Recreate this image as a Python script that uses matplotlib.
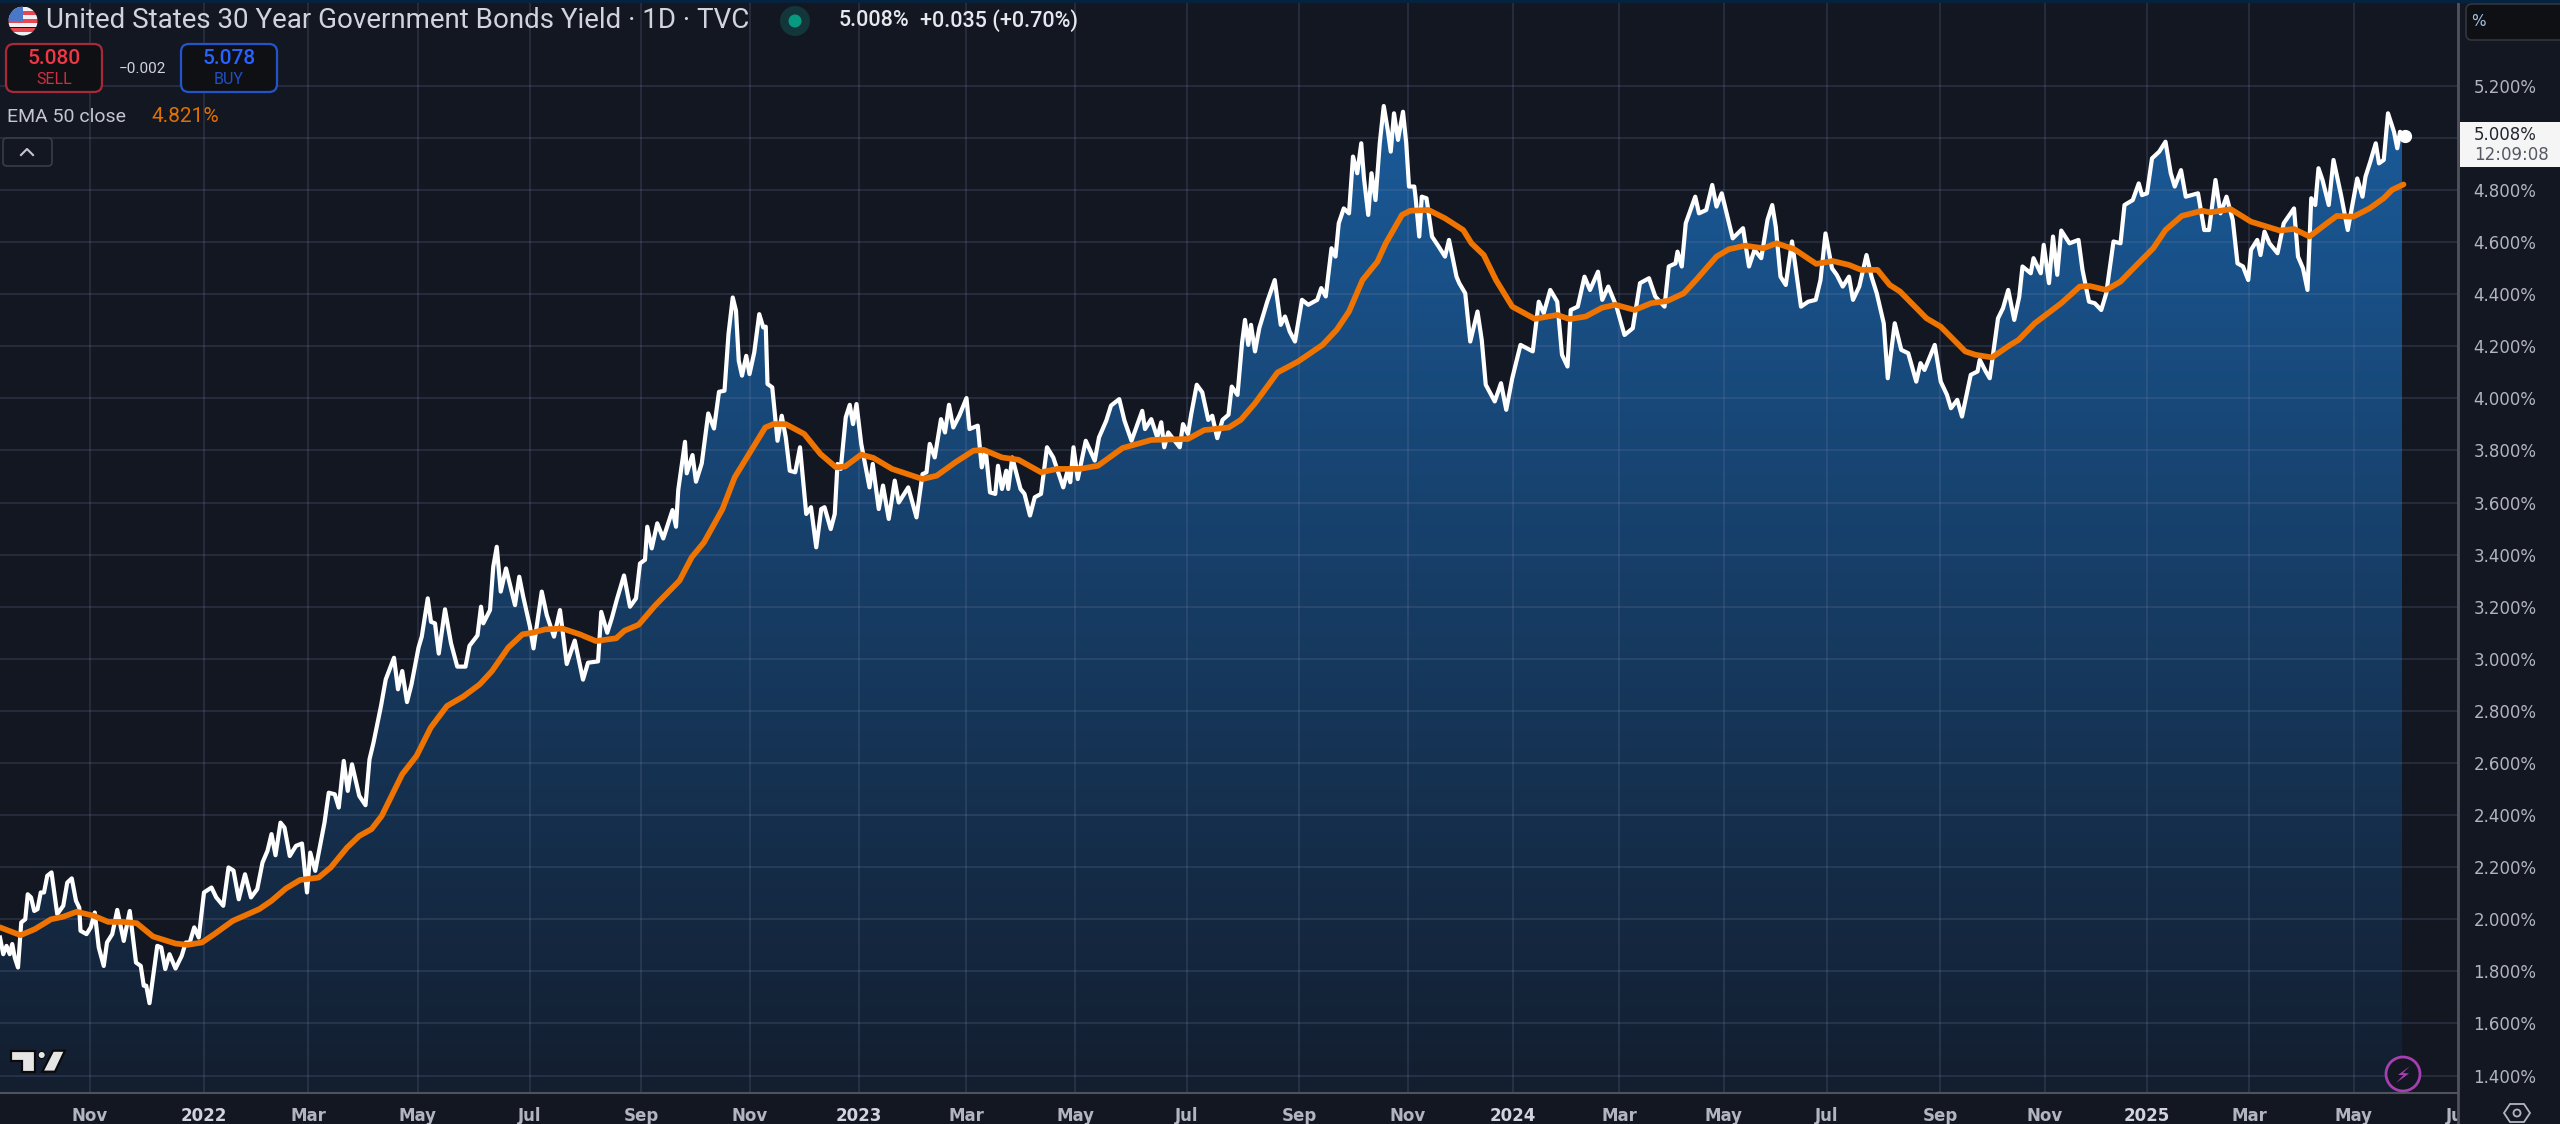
import numpy as np
import matplotlib
matplotlib.use('Agg')
import matplotlib.pyplot as plt
from matplotlib.colors import LinearSegmentedColormap
from matplotlib.patches import Circle, FancyBboxPatch, Polygon, Rectangle

# x is in bars counted from the left edge of the chart
tick_bars = [36, 81.6, 123.2, 167.2, 212, 256.4, 300, 343.6, 386.4, 430, 474.8, 519.6,
             563.2, 605.2, 647.6, 689.6, 730.8, 776, 818, 858.8, 899.6, 941.6, 983]
tick_labels = ['Nov', '2022', 'Mar', 'May', 'Jul', 'Sep', 'Nov', '2023', 'Mar', 'May', 'Jul', 'Sep',
               'Nov', '2024', 'Mar', 'May', 'Jul', 'Sep', 'Nov', '2025', 'Mar', 'May', 'Jul']
price_ticks = [1.4, 1.6, 1.8, 2.0, 2.2, 2.4, 2.6, 2.8, 3.0, 3.2, 3.4, 3.6, 3.8, 4.0, 4.2, 4.4, 4.6, 4.8, 5.0, 5.2]

yield_x = [0, 1.3, 2.6, 3.9, 4.9, 5.9, 7.2, 8.5, 10.1, 11.1, 12.4, 13.7, 15, 16.3, 17.6, 18.9, 20.6, 22.9, 25.3, 26.9,
           28.7, 30.4, 31.7, 32.2, 34.6, 36.3, 37.9, 39.5, 41.5, 42.8, 44.9, 46.9, 49.5, 51.9, 54.4, 56.3, 57.5, 58.5,
           59.8, 62.9, 64.5, 66.1, 67.8, 70.2, 72.7, 74.3, 75.9, 77.7, 79.5, 81.6, 84.6, 86.5, 89.3, 91.4, 93.4, 95.5,
           98, 100.4, 102.9, 105, 107, 108.6, 110.2, 112.2, 113.8, 115.9, 118.4, 120.8, 122.8, 124.1, 126.1, 129.8,
           131.5, 133.9, 135.5, 137.5, 139.1, 140.8, 143.7, 146.2, 147.8, 149.4, 152.4, 154.3, 157.6, 159.2, 160.9,
           162.8, 164.6, 167.4, 168.7, 171.1, 172.4, 174, 175.5, 178, 180.4, 182.9, 186.2, 187.8, 191, 192.4, 193.3,
           196, 197.3, 198.7, 200.3, 202.4, 206, 207.7, 209.3, 212, 213.4, 216.7, 218.7, 221.6, 224, 226.7, 229.9,
           233.2, 235.2, 239.2, 240.5, 242.9, 244.7, 246.7, 249.6, 252, 254.4, 256, 258, 258.9, 260.7, 262.9, 265.3,
           269, 270.4, 271.3, 274, 274.7, 277, 278.4, 280.7, 283.3, 285.6, 287.6, 289.8, 291.4, 293.1, 294.4, 295.5,
           296.8, 298.5, 299.8, 301.7, 303.7, 305.3, 306.3, 307, 308.9, 311, 312.7, 314.3, 315.9, 318.1, 320, 322.5,
           324.4, 326.5, 328.5, 329.8, 332.3, 333.9, 335, 336.3, 338.3, 339.9, 341.2, 342.6, 344.5, 347.8, 349.1,
           351.5, 353.2, 355.5, 357.9, 359.5, 363.3, 366.6, 369, 370.6, 371.9, 373.9, 376.4, 378, 379.6, 381.3, 383.7,
           386.6, 387.8, 391.1, 392.7, 394.3, 396, 398.1, 399.2, 400.8, 402.5, 403.3, 404.9, 408.2, 409.8, 412, 413.9,
           416.4, 418.8, 421.3, 425.3, 427, 428.1, 429.4, 431.1, 434.3, 437.9, 439.6, 442.5, 444.4, 447.7, 449.8,
           452.6, 456.9, 458, 460.5, 462.9, 464.5, 465.7, 467.3, 471.9, 473.2, 475.2, 476.5, 478.7, 480.9, 483.3,
           484.9, 486.9, 489, 491.4, 492.7, 495, 496.8, 498, 499.3, 500.4, 502, 503.7, 506.9, 509.9, 512.3, 514, 515.9,
           518, 520.8, 523.3, 526.9, 528.5, 530.3, 532.6, 534.2, 535.5, 537.5, 539.6, 541.2, 542.9, 544.5, 545.6,
           547.3, 548.6, 550.2, 551.9, 553.5, 555.1, 556.3, 557.6, 559.2, 561.2, 562.5, 563.6, 565.7, 566.2, 567.7,
           568.7, 570.6, 572.8, 575.5, 578, 579.6, 582.6, 583.7, 586.1, 588.1, 591, 592.7, 594.3, 597.9, 600.4, 602.5,
           604.9, 608.2, 613.1, 615.5, 617.5, 620.1, 622.9, 624.8, 627, 628.3, 631.1, 633.8, 636, 639.2, 640.9, 643.3,
           646.6, 649.8, 653.1, 656, 659.6, 662.1, 665.8, 667.5, 670.2, 671, 672.7, 674.3, 678.1, 679.6, 682.5, 684.9,
           686.6, 688.7, 693.1, 697.2, 699.6, 701.8, 704.5, 707, 708.9, 710.3, 712.2, 714.3, 716.8, 720.4, 723.3,
           726.3, 728.2, 730.2, 732.8, 734.7, 737.1, 739.6, 741.2, 743.7, 746.6, 748.6, 750.7, 753.5, 755.1, 757.9,
           760.5, 763.3, 766.5, 768.2, 769.8, 773.9, 776.3, 778.8, 780.4, 782.9, 784.8, 788.3, 791, 791.9, 794.3,
           795.9, 799.2, 801.2, 803.3, 805.7, 807.7, 809, 812.3, 813.4, 816.3, 817.5, 819.6, 821.2, 822.9, 824.5,
           827.8, 831.4, 833, 835.6, 837.9, 840.5, 842.5, 845.4, 848.2, 849.8, 853.1, 855.5, 856.8, 858.8, 860.8,
           863.7, 866.2, 868.3, 869.9, 872.4, 874.3, 879.2, 881.7, 883.6, 886.2, 888.2, 890.6, 893.1, 895, 897.2,
           899.3, 900.4, 902.9, 904.2, 905.8, 907.8, 911, 913.5, 917.6, 919.2, 921.2, 923, 924.5, 926.1, 927.4, 929,
           931.5, 933.4, 936.4, 939.1, 942.9, 945, 946.2, 948.1, 950.3, 951.6, 953.5, 955.2, 957.6, 958.9, 960, 962]
yield_y = [1.93, 1.866, 1.898, 1.866, 1.905, 1.853, 1.815, 1.988, 2.0, 2.096, 2.084, 2.032, 2.039, 2.103, 2.103, 2.167,
           2.18, 2.02, 2.052, 2.141, 2.157, 2.071, 2.045, 1.956, 1.943, 1.969, 2.026, 1.892, 1.821, 1.911, 1.943, 2.036,
           1.917, 2.032, 1.834, 1.821, 1.745, 1.745, 1.678, 1.898, 1.892, 1.809, 1.866, 1.811, 1.86, 1.911, 1.911,
           1.969, 1.93, 2.103, 2.122, 2.084, 2.052, 2.199, 2.187, 2.077, 2.173, 2.084, 2.116, 2.218, 2.263, 2.327,
           2.246, 2.371, 2.352, 2.243, 2.282, 2.291, 2.103, 2.256, 2.186, 2.371, 2.486, 2.48, 2.429, 2.608, 2.493,
           2.595, 2.474, 2.438, 2.614, 2.678, 2.819, 2.921, 3.004, 2.883, 2.953, 2.834, 2.902, 3.043, 3.085, 3.232,
           3.142, 3.136, 3.02, 3.19, 3.06, 2.97, 2.97, 3.05, 3.09, 3.2, 3.136, 3.187, 3.353, 3.43, 3.258, 3.347, 3.206,
           3.315, 3.238, 3.123, 3.04, 3.258, 3.168, 3.085, 3.187, 2.98, 3.07, 2.92, 2.985, 2.99, 3.18, 3.1, 3.155,
           3.226, 3.32, 3.2, 3.232, 3.366, 3.38, 3.507, 3.424, 3.52, 3.462, 3.571, 3.507, 3.648, 3.833, 3.712, 3.782,
           3.68, 3.75, 3.942, 3.884, 4.025, 4.029, 4.247, 4.387, 4.336, 4.144, 4.087, 4.163, 4.093, 4.176, 4.323,
           4.272, 4.275, 4.055, 4.042, 3.837, 3.933, 3.85, 3.722, 3.716, 3.812, 3.556, 3.582, 3.428, 3.575, 3.582,
           3.498, 3.556, 3.748, 3.729, 3.927, 3.975, 3.901, 3.978, 3.825, 3.658, 3.748, 3.575, 3.665, 3.537, 3.684,
           3.6, 3.658, 3.543, 3.709, 3.716, 3.825, 3.773, 3.92, 3.869, 3.975, 3.888, 3.933, 4.001, 3.882, 3.895, 3.735,
           3.799, 3.639, 3.633, 3.741, 3.652, 3.722, 3.652, 3.773, 3.652, 3.633, 3.55, 3.62, 3.633, 3.812, 3.773,
           3.658, 3.722, 3.678, 3.812, 3.69, 3.837, 3.761, 3.85, 3.914, 3.972, 3.997, 3.914, 3.837, 3.952, 3.882, 3.92,
           3.85, 3.908, 3.812, 3.869, 3.812, 3.901, 3.863, 3.94, 4.052, 4.023, 3.917, 3.933, 3.847, 3.917, 3.937, 4.045,
           4.013, 4.211, 4.301, 4.205, 4.282, 4.18, 4.269, 4.371, 4.454, 4.282, 4.314, 4.256, 4.218, 4.378, 4.359,
           4.378, 4.423, 4.391, 4.576, 4.544, 4.672, 4.729, 4.71, 4.928, 4.864, 4.979, 4.844, 4.704, 4.864, 4.761,
           4.979, 5.122, 5.03, 4.947, 5.094, 4.992, 5.1, 4.979, 4.813, 4.813, 4.774, 4.621, 4.774, 4.768, 4.621, 4.582,
           4.544, 4.608, 4.467, 4.442, 4.403, 4.218, 4.333, 4.224, 4.052, 3.988, 4.058, 3.956, 4.077, 4.205, 4.18,
           4.371, 4.327, 4.416, 4.371, 4.167, 4.122, 4.339, 4.352, 4.467, 4.416, 4.486, 4.378, 4.429, 4.352, 4.243,
           4.269, 4.442, 4.461, 4.391, 4.352, 4.506, 4.518, 4.563, 4.506, 4.672, 4.774, 4.71, 4.723, 4.819, 4.736,
           4.787, 4.614, 4.653, 4.506, 4.57, 4.538, 4.685, 4.742, 4.659, 4.467, 4.435, 4.602, 4.352, 4.371, 4.378,
           4.454, 4.633, 4.499, 4.474, 4.429, 4.467, 4.378, 4.429, 4.55, 4.467, 4.403, 4.288, 4.077, 4.288, 4.186,
           4.173, 4.064, 4.135, 4.109, 4.205, 4.064, 4.013, 3.962, 3.994, 3.93, 4.09, 4.103, 4.148, 4.103, 4.077, 4.307,
           4.346, 4.416, 4.301, 4.39, 4.506, 4.48, 4.538, 4.48, 4.589, 4.442, 4.621, 4.474, 4.644, 4.595, 4.608, 4.493,
           4.371, 4.365, 4.339, 4.403, 4.602, 4.595, 4.742, 4.761, 4.825, 4.78, 4.787, 4.921, 4.947, 4.985, 4.864,
           4.813, 4.876, 4.774, 4.787, 4.646, 4.646, 4.838, 4.71, 4.774, 4.685, 4.518, 4.506, 4.454, 4.57, 4.608, 4.55,
           4.64, 4.595, 4.557, 4.672, 4.729, 4.544, 4.499, 4.416, 4.768, 4.742, 4.883, 4.838, 4.742, 4.915, 4.781,
           4.646, 4.844, 4.774, 4.851, 4.908, 4.979, 4.902, 4.915, 5.094, 5.023, 4.96, 5.023, 5.008]

ema_x = [0, 8.2, 13.9, 20.4, 25.3, 30.7, 37.6, 43.3, 49, 54.7, 61.2, 70.2, 75.1, 80.8, 85.7, 93.1, 103.7, 108.6, 114.3,
         120, 127.4, 132.3, 138.8, 143.7, 148.6, 152.7, 157.6, 160.9, 166.6, 172.3, 178.8, 185.3, 191.9, 196.8, 203.3,
         209, 213.1, 218, 225, 231.9, 238.4, 246.5, 249.8, 255.5, 262, 271.8, 276.7, 281.6, 289, 293.9, 300.4, 306.1,
         309.4, 314.3, 321.7, 328.2, 334.4, 338, 344.5, 349.4, 356.8, 369, 374.7, 382.1, 389.4, 393.5, 400.8, 407.4,
         416.4, 422.9, 431.9, 439.2, 449, 460.5, 475.2, 481.7, 491.5, 496.3, 502, 506.9, 511, 519.2, 529, 534.7, 539.6,
         545, 551, 554.3, 560.8, 564.1, 571.4, 578, 585.3, 588.6, 593.5, 598.4, 604.9, 613.9, 622.9, 627.8, 634.3,
         640.9, 646.2, 653.9, 660.4, 667, 673.5, 678.4, 686.6, 691.5, 698, 705.4, 710.6, 717.6, 726.5, 733.1, 739.6,
         744.5, 751, 755.9, 760, 770.6, 776.3, 786.1, 790.2, 796.8, 804.1, 807.4, 813.9, 824.5, 831.9, 835.9, 842.5,
         848.2, 854.7, 861.3, 866.2, 872.7, 880.8, 884.1, 892.3, 900.4, 911.9, 917.6, 923.8, 929.8, 934.7, 941.3,
         947.8, 953.5, 956.8, 961.4]
ema_y = [1.969, 1.939, 1.962, 2.0, 2.01, 2.029, 2.013, 1.99, 1.99, 1.985, 1.934, 1.907, 1.902, 1.911, 1.943, 1.994, 2.039,
         2.071, 2.118, 2.151, 2.16, 2.199, 2.275, 2.32, 2.346, 2.397, 2.493, 2.557, 2.627, 2.736, 2.819, 2.855, 2.902,
         2.953, 3.043, 3.094, 3.1, 3.113, 3.116, 3.094, 3.068, 3.079, 3.108, 3.131, 3.204, 3.3, 3.39, 3.447, 3.575,
         3.697, 3.799, 3.888, 3.901, 3.901, 3.863, 3.786, 3.735, 3.738, 3.784, 3.771, 3.729, 3.69, 3.703, 3.754, 3.799,
         3.802, 3.773, 3.764, 3.716, 3.729, 3.729, 3.741, 3.809, 3.84, 3.844, 3.878, 3.888, 3.917, 3.981, 4.045, 4.099,
         4.141, 4.205, 4.263, 4.333, 4.454, 4.525, 4.595, 4.704, 4.72, 4.723, 4.691, 4.646, 4.595, 4.55, 4.454, 4.352,
         4.305, 4.32, 4.304, 4.314, 4.348, 4.359, 4.339, 4.365, 4.374, 4.403, 4.454, 4.544, 4.572, 4.586, 4.576, 4.595,
         4.573, 4.516, 4.527, 4.512, 4.493, 4.493, 4.435, 4.41, 4.307, 4.275, 4.18, 4.167, 4.157, 4.205, 4.224, 4.288,
         4.365, 4.429, 4.431, 4.416, 4.448, 4.512, 4.576, 4.646, 4.7, 4.72, 4.714, 4.726, 4.678, 4.644, 4.65, 4.621,
         4.665, 4.7, 4.697, 4.729, 4.768, 4.8, 4.821]

BG = '#131722'
W, H = 2560, 1124
PANEL_X, PANEL_Y = 2458, 1093
LABEL = '#b2b5be'

fig = plt.figure(figsize=(W / 100, H / 100), dpi=100, facecolor=BG)
ax = fig.add_axes([0, 1 - PANEL_Y / H, PANEL_X / W, (PANEL_Y - 3) / H])
ax.set_facecolor(BG)

# area under the yield line, gradient clipped to the line
grad = LinearSegmentedColormap.from_list('area', ['#131e2f', '#1a5c9c'])
im = ax.imshow(np.linspace(1, 0, 256).reshape(-1, 1), cmap=grad, aspect='auto', zorder=0,
               extent=(0, 960.8, 1.333, 5.2))
area = Polygon(np.column_stack([[0] + yield_x + [962, 0], [1.0] + yield_y + [1.0, 1.0]]),
               transform=ax.transData, facecolor='none', edgecolor='none')
ax.add_patch(area)
im.set_clip_path(area)

ax.plot(yield_x, yield_y, color='white', lw=3.0, solid_joinstyle='round', zorder=3)
ax.plot(yield_x[-1], yield_y[-1], 'o', color='white', ms=8.5, zorder=3)
ax.plot(ema_x, ema_y, color='#ef7300', lw=4.1, solid_capstyle='round', solid_joinstyle='round', zorder=4)

ax.set_xlim(0, PANEL_X * 0.4)
ax.set_ylim(1.3332, 5.5175)
ax.set_xticks(tick_bars)
ax.set_xticklabels(tick_labels, fontsize=12, color=LABEL, fontweight='bold', family='DejaVu Sans')
for lab in ax.get_xticklabels():
    if lab.get_text().startswith('20'):
        lab.set_color('#d1d4dc')
ax.yaxis.tick_right()
ax.set_yticks(price_ticks)
ax.set_yticklabels([f'{p:.3f}%' for p in price_ticks], fontsize=12, color=LABEL, family='DejaVu Sans')
ax.tick_params(axis='x', length=0, pad=10)
ax.tick_params(axis='y', length=0, pad=11)
ax.set_axisbelow(True)
ax.grid(True, color='#7c86aa', alpha=0.22, lw=1.2)
for s in ['top', 'left']:
    ax.spines[s].set_visible(False)
ax.spines['right'].set_color('#50535e')
ax.spines['right'].set_linewidth(2)
ax.spines['bottom'].set_color('#50535e')
ax.spines['bottom'].set_linewidth(1.5)

# screen furniture on top, in pixel coordinates
ui = fig.add_axes([0, 0, 1, 1], zorder=5)
ui.set_xlim(0, W)
ui.set_ylim(H, 0)
ui.axis('off')
ui.patch.set_visible(False)
ui.add_patch(Rectangle((0, 0), W, 3, color='#05233f', lw=0))
ui.add_patch(Rectangle((PANEL_X + 1, PANEL_Y + 1), W - PANEL_X, H - PANEL_Y, color=BG, lw=0))
ui.plot([PANEL_X, PANEL_X], [PANEL_Y, H], color='#50535e', lw=2)

UI_FONT = ['Roboto', 'DejaVu Sans']

# flag
flag = Circle((23, 21), 14.5, transform=ui.transData, facecolor='none', edgecolor='none')
ui.add_patch(flag)
for i in range(7):
    st = Rectangle((8, 6.5 + i * 4.2), 30, 4.2, color='#e8474f' if i % 2 else '#f1f1f4', lw=0)
    ui.add_patch(st)
    st.set_clip_path(flag)
canton = Rectangle((8, 6), 15, 15, color='#4a78c8', lw=0)
ui.add_patch(canton)
canton.set_clip_path(flag)

ui.text(46, 21, 'United States 30 Year Government Bonds Yield · 1D · TVC', fontsize=20, color='#d1d4dc',
        family=UI_FONT, va='center')
ui.add_patch(Circle((795, 21), 15, color='#12363a', lw=0))
ui.add_patch(Circle((795, 21), 6.5, color='#089981', lw=0))
ui.text(839, 21, '5.008%', fontsize=15.5, color='#e6e8ee', family=UI_FONT, va='center', fontweight='medium')
ui.text(920, 21, '+0.035 (+0.70%)', fontsize=15.5, color='#e6e8ee', family=UI_FONT, va='center', fontweight='medium')

ui.add_patch(FancyBboxPatch((14, 52), 80, 32, boxstyle='round,pad=8,rounding_size=8', facecolor='#0f1014',
                            edgecolor='#a8293a', lw=1.6))
ui.text(54, 59, '5.080', fontsize=15, color='#f23645', family=UI_FONT, ha='center', va='center', fontweight='medium')
ui.text(54, 80, 'SELL', fontsize=11.5, color='#d42c3e', family=UI_FONT, ha='center', va='center')
ui.text(142, 69, '−0.002', fontsize=11, color='#d1d4dc', family=UI_FONT, ha='center', va='center')
ui.add_patch(FancyBboxPatch((189, 52), 80, 32, boxstyle='round,pad=8,rounding_size=8', facecolor='#0f1014',
                            edgecolor='#2255cc', lw=1.6))
ui.text(229, 59, '5.078', fontsize=15, color='#2962ff', family=UI_FONT, ha='center', va='center', fontweight='medium')
ui.text(229, 80, 'BUY', fontsize=11.5, color='#1e50c8', family=UI_FONT, ha='center', va='center')

ui.text(7, 117, 'EMA 50 close', fontsize=14, color='#c3c6ce', family=UI_FONT, va='center')
ui.text(151, 117, '4.821%', fontsize=15, color='#e07000', family=UI_FONT, va='center')
ui.add_patch(FancyBboxPatch((7, 142), 41, 20, boxstyle='round,pad=4,rounding_size=4', facecolor=BG,
                            edgecolor='#3a3d47', lw=1.2))
ui.plot([21, 27, 33], [155, 149, 155], color='#c3c6ce', lw=1.5)

# price axis tag and unit box
ui.add_patch(Rectangle((2460, 122), 100, 45, color='#f5f5f5', lw=0))
ui.text(2474, 135, '5.008%', fontsize=12, color='#222630', family='DejaVu Sans', va='center')
ui.text(2474, 155, '12:09:08', fontsize=12, color='#555964', family='DejaVu Sans', va='center')
ui.add_patch(FancyBboxPatch((2474, 12), 100, 20, boxstyle='round,pad=8,rounding_size=6', facecolor='#0f1014',
                            edgecolor='#33363f', lw=1.2))
ui.text(2478, 21, '%', fontsize=11, color='#9fc4e8', family='DejaVu Sans', ha='center', va='center')

# TradingView mark
logo_t = Polygon([(11, 1050.7), (35, 1050.7), (35, 1071.7), (22, 1071.7), (22, 1060.7), (11, 1060.7)],
                 facecolor='#e6e6e6', edgecolor='#0b0b0b', lw=1.6)
logo_s = Polygon([(53, 1050.7), (65, 1050.7), (55, 1071.7), (42.3, 1071.7)], facecolor='#e6e6e6',
                 edgecolor='#0b0b0b', lw=1.6)
ui.add_patch(logo_t)
ui.add_patch(logo_s)
ui.add_patch(Circle((41.7, 1055), 3.6, facecolor='#e6e6e6', edgecolor='#0b0b0b', lw=0.8))

# lightning badge
ui.add_patch(Circle((2403, 1074), 17, facecolor=BG, edgecolor='#a63fb0', lw=2))
ui.add_patch(Polygon([(2410, 1066), (2398, 1075), (2403.5, 1075), (2396, 1083), (2409, 1073.5), (2403, 1073)],
                     color='#a63fb0', lw=0))

# settings hexagon
ui.add_patch(Polygon([(2504, 1113), (2510, 1104), (2524, 1104), (2530, 1113), (2524, 1122), (2510, 1122)],
                     facecolor='none', edgecolor=LABEL, lw=1.3))
ui.add_patch(Circle((2517, 1113), 3.5, facecolor='none', edgecolor=LABEL, lw=1.3))

fig.savefig('out.png', dpi=100, facecolor=BG)
